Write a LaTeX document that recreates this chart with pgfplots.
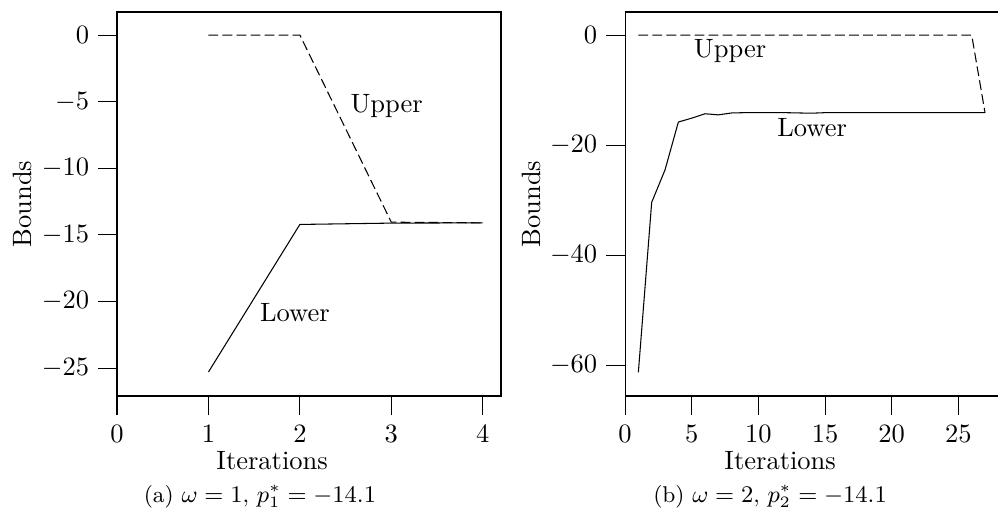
\documentclass[border=0pt]{standalone}
\usepackage{pgfplots}
\pgfplotsset{compat=1.18}

% 1px of the reference = 0.3774pt
\pgfplotsset{
  bnd/.style={
    scale only axis,
    width=144.92pt, height=144.92pt,
    axis line style={line width=0.4pt},
    tick align=outside,
    xtick pos=bottom, ytick pos=left,
    major tick length=7pt,
    tick style={black, line width=0.4pt},
    xticklabel style={yshift=-0.5pt},
    xlabel={Iterations}, ylabel={Bounds},
    xlabel style={at={(axis description cs:0.404,0)}, anchor=base, yshift=-27.9pt},
    ylabel style={at={(axis description cs:-0.245,0.5)}, anchor=center},
  },
  upr/.style={black, line width=0.4pt, dash pattern=on 3.7pt off 1.6pt},
  lwr/.style={black, line width=0.4pt},
}

\begin{document}
\begin{tikzpicture}
\useasboundingbox (0,0) rectangle (376.64pt,195.12pt);

\begin{axis}[bnd,
  at={(44.16pt,45.67pt)}, anchor=south west,
  xmin=0, xmax=4.2, ymin=-27.1, ymax=1.73,
  xtick={0,1,2,3,4}, ytick={-25,-20,-15,-10,-5,0},
]
\addplot[upr] coordinates {(1,0) (2,0) (3,-14.05) (4,-14.1)};
\addplot[lwr] coordinates {(1,-25.3) (2,-14.22) (3,-14.12) (4,-14.1)};
\node[anchor=base] at (axis cs:2.95,-5.78) {Upper};
\node[anchor=base] at (axis cs:1.945,-21.5) {Lower};
\end{axis}

\begin{axis}[bnd,
  at={(235.88pt,45.67pt)}, anchor=south west,
  xmin=0, xmax=28.8, ymin=-65.6, ymax=4.2,
  xtick={0,5,10,15,20,25}, ytick={-60,-40,-20,0},
]
\addplot[upr] coordinates {
 (1,0) (2,0) (3,0) (4,0) (5,0) (6,0) (7,0) (8,0) (9,0) (10,0)
 (11,0) (12,0) (13,0) (14,0) (15,0) (16,0) (17,0) (18,0) (19,0) (20,0)
 (21,0) (22,0) (23,0) (24,0) (25,0) (26,0) (27,-14.1)};
\addplot[lwr] coordinates {
 (1,-61.3) (2,-30.4) (3,-24.5) (4,-15.8) (5,-15.1) (6,-14.3) (7,-14.5)
 (8,-14.15) (9,-14.1) (10,-14.1) (11,-14.1) (12,-14.1) (13,-14.15)
 (14,-14.2) (15,-14.1) (16,-14.1) (17,-14.1) (18,-14.1) (19,-14.1)
 (20,-14.1) (21,-14.1) (22,-14.1) (23,-14.1) (24,-14.1) (25,-14.1)
 (26,-14.1) (27,-14.1)};
\node[anchor=base] at (axis cs:7.88,-4.0) {Upper};
\node[anchor=base] at (axis cs:14.03,-18.5) {Lower};
\end{axis}

\node[anchor=base] at (98.1pt,5.3pt)
  {\fontsize{8.6pt}{10pt}\selectfont (a) $\omega=1$, $p_1^*=-14.1$};
\node[anchor=base] at (290.6pt,5.3pt)
  {\fontsize{8.6pt}{10pt}\selectfont (b) $\omega=2$, $p_2^*=-14.1$};
\end{tikzpicture}
\end{document}
